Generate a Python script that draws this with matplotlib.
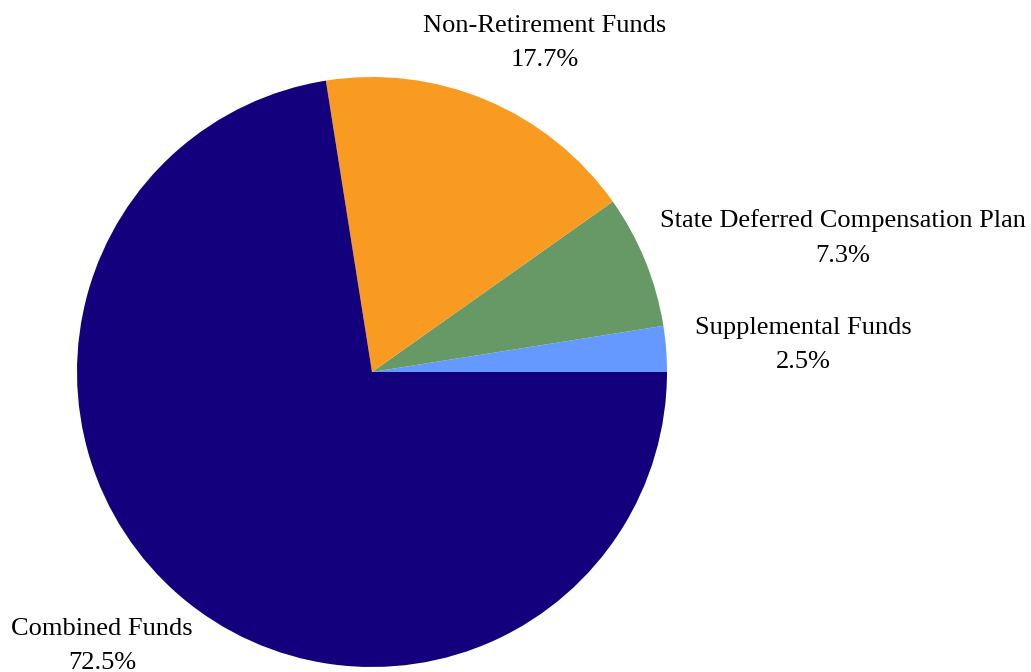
import matplotlib
matplotlib.use('Agg')
import matplotlib.pyplot as plt

# 各基金占比
labels = ['Supplemental Funds', 'State Deferred Compensation Plan',
          'Non-Retirement Funds', 'Combined Funds']
shares = [2.5, 7.3, 17.7, 72.5]
colors = ['#6699ff', '#669966', '#f99b20', '#13007c']

# 标签中心位置（像素坐标，y向上）
label_pos = [(803, 672 - 345), (843, 672 - 238), (545, 672 - 43), (102, 672 - 646)]

plt.rcParams['font.family'] = ['Liberation Serif', 'DejaVu Serif']

fig = plt.figure(figsize=(10.31, 6.72), dpi=100)
ax = fig.add_axes([0, 0, 1, 1])

ax.pie(shares, colors=colors, startangle=0, counterclock=True,
       center=(372, 300), radius=295, frame=True,
       wedgeprops={'linewidth': 0})

for name, val, (x, y) in zip(labels, shares, label_pos):
    ax.text(x, y, '%s\n%.1f%%' % (name, val), ha='center', va='center',
            fontsize=19, linespacing=1.76, color='black')

ax.set_xlim(0, 1031)
ax.set_ylim(0, 672)
ax.set_aspect('equal')
ax.axis('off')

fig.savefig('out.png', dpi=100)
